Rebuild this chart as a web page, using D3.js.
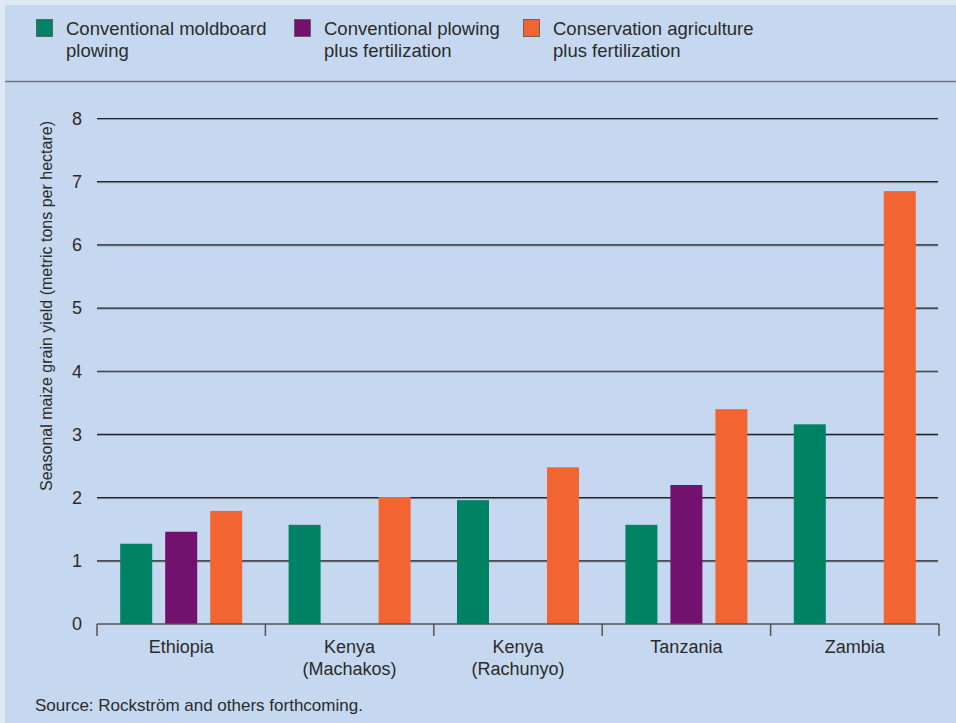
<!DOCTYPE html>
<html>
<head>
<meta charset="utf-8">
<script src="https://cdn.jsdelivr.net/npm/d3@7"></script>
<style>
  html, body { margin: 0; padding: 0; background: #dfe9f6; }
  svg { display: block; font-family: "Liberation Sans", Arial, Helvetica, sans-serif; }
</style>
</head>
<body>
<svg id="chart" width="956" height="723"></svg>
<script>
// ---- data ----
const categories = [["Ethiopia"], ["Kenya", "(Machakos)"], ["Kenya", "(Rachunyo)"], ["Tanzania"], ["Zambia"]];
const seriesNames = [["Conventional moldboard", "plowing"], ["Conventional plowing", "plus fertilization"], ["Conservation agriculture", "plus fertilization"]];
const moldboard = [1.27, 1.57, 1.96, 1.57, 3.16];
const plowingFert = [1.46, null, null, 2.20, null];
const conservation = [1.79, 2.01, 2.48, 3.40, 6.85];
const yTicks = [0, 1, 2, 3, 4, 5, 6, 7, 8];
const colors = ["#008265", "#73126e", "#f26532"];
const yTitle = "Seasonal maize grain yield (metric tons per hectare)";
const source = "Source: Rockström and others forthcoming.";

const svg = d3.select("#chart");
const W = 956, H = 723;

// panel background
svg.append("rect").attr("x", 5).attr("y", 5).attr("width", W - 5).attr("height", H - 5).attr("fill", "#c5d8ef");
// separator under legend
svg.append("line").attr("x1", 5).attr("x2", W).attr("y1", 81.5).attr("y2", 81.5)
  .attr("stroke", "#6f7680").attr("stroke-width", 1.3);

// legend
const legendX = [36, 294, 523];
const lg = svg.append("g");
seriesNames.forEach((lines, i) => {
  const g = lg.append("g").attr("transform", `translate(${legendX[i]},0)`);
  g.append("rect").attr("x", 0.5).attr("y", 19.5).attr("width", 16).attr("height", 17)
    .attr("fill", colors[i]).attr("stroke", "#555").attr("stroke-width", 0.8);
  const t = g.append("text").attr("x", 30).attr("y", 35).attr("font-size", 18.5).attr("fill", "#2b2b2b")
    .attr("textLength", null);
  lines.forEach((l, j) => t.append("tspan").attr("x", 30).attr("dy", j === 0 ? 0 : 22).text(l));
});

// scales
const left = 97, right = 939, y0 = 624, y8 = 118.5;
const x = d3.scaleBand().domain(d3.range(categories.length)).range([left, right]).padding(0);
const y = d3.scaleLinear().domain([0, 8]).range([y0, y8]);
const bw = x.bandwidth();
const xs = d3.scaleBand().domain(d3.range(3)).range([bw / 2 - 67.5, bw / 2 + 67.5])
  .paddingInner(0.289).paddingOuter(0.1445);

// gridlines
const grid = svg.append("g");
yTicks.filter(d => d > 0).forEach(d => {
  grid.append("line").attr("x1", left).attr("x2", right - 1).attr("y1", y(d) + 1).attr("y2", y(d) + 1)
    .attr("stroke", "#8a96a6").attr("stroke-width", 1);
  grid.append("line").attr("x1", left).attr("x2", right - 1).attr("y1", y(d)).attr("y2", y(d))
    .attr("stroke", "#222").attr("stroke-width", 1.2);
});

// y axis labels
const yAxis = d3.axisLeft(y).tickValues(yTicks).tickSize(0).tickPadding(15).tickFormat(d3.format("d"));
const ya = svg.append("g").attr("transform", `translate(${left},0)`).call(yAxis);
ya.select(".domain").remove();
ya.selectAll("text").attr("font-size", 18).attr("fill", "#2b2b2b").attr("font-family", "Liberation Sans, Arial, sans-serif");

// bars
const seriesData = [moldboard, plowingFert, conservation];
const barsG = svg.append("g");
seriesData.forEach((vals, si) => {
  barsG.selectAll(null).data(vals.map((v, ci) => ({ v, ci })).filter(d => d.v != null))
    .enter().append("rect")
    .attr("x", d => x(d.ci) + xs(si))
    .attr("width", xs.bandwidth())
    .attr("y", d => y(d.v))
    .attr("height", d => y(0) - y(d.v))
    .attr("fill", colors[si]);
});

// x axis
const xa = svg.append("g");
xa.append("line").attr("x1", left).attr("x2", right).attr("y1", y0).attr("y2", y0)
  .attr("stroke", "#555").attr("stroke-width", 1.5);
const bounds = d3.range(categories.length).map(i => x(i)).concat([right]);
bounds.forEach(b => {
  xa.append("line").attr("x1", b).attr("x2", b).attr("y1", y0).attr("y2", y0 + 12)
    .attr("stroke", "#555").attr("stroke-width", 1.5);
});
categories.forEach((lines, i) => {
  const t = xa.append("text").attr("text-anchor", "middle").attr("font-size", 18).attr("fill", "#2b2b2b")
    .attr("x", x(i) + bw / 2).attr("y", 653);
  lines.forEach((l, j) => t.append("tspan").attr("x", x(i) + bw / 2).attr("dy", j === 0 ? 0 : 22).text(l));
});

// y title
svg.append("text").attr("transform", `translate(52,306) rotate(-90)`).attr("text-anchor", "middle")
  .attr("font-size", 16).attr("fill", "#2b2b2b").text(yTitle);

// source
svg.append("text").attr("x", 35).attr("y", 711).attr("font-size", 17).attr("fill", "#2b2b2b").text(source);
</script>
</body>
</html>
